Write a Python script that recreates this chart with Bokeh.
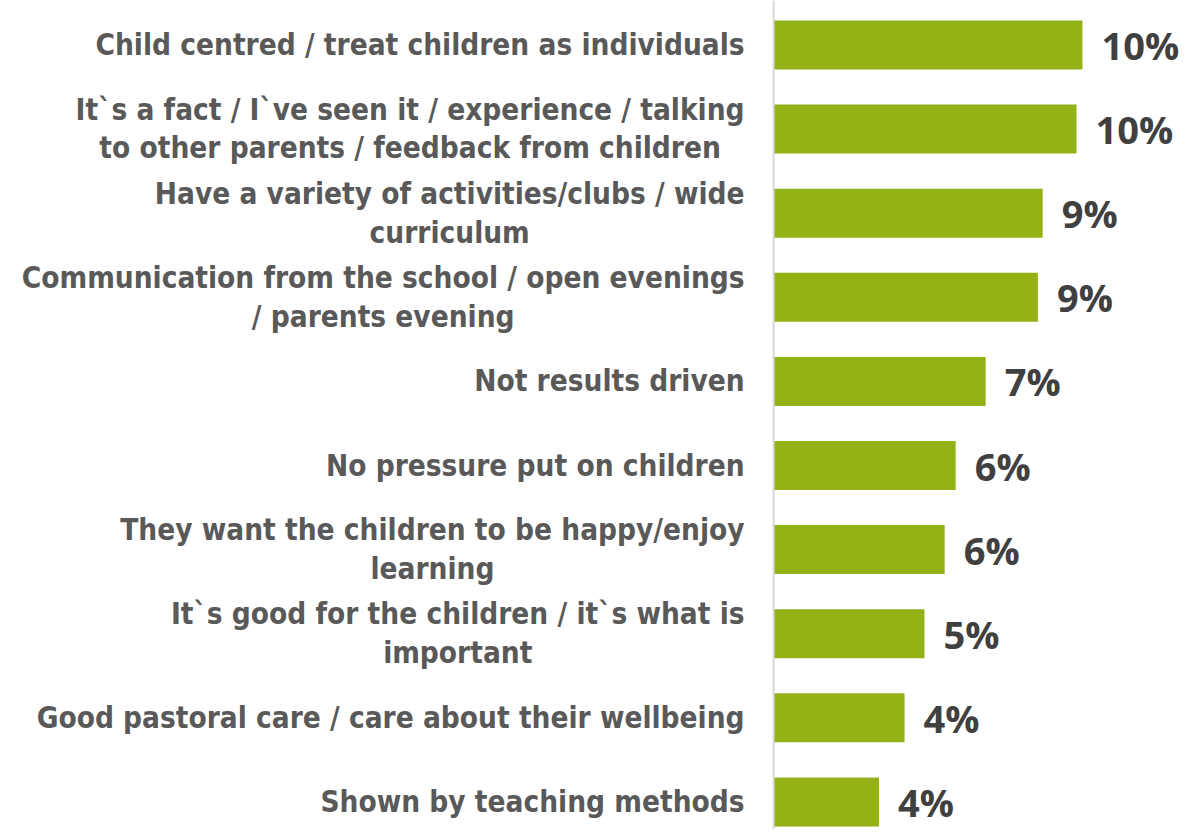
from bokeh.plotting import figure
from bokeh.models import ColumnDataSource, Range1d, Span
from bokeh.core.properties import value
from bokeh.embed import file_html
from bokeh.resources import INLINE

categories = [
    "Child centred / treat children as individuals",
    "It`s a fact / I`ve seen it / experience / talking\nto other parents / feedback from children",
    "Have a variety of activities/clubs / wide\ncurriculum",
    "Communication from the school / open evenings\n/ parents evening",
    "Not results driven",
    "No pressure put on children",
    "They want the children to be happy/enjoy\nlearning",
    "It`s good for the children / it`s what is\nimportant",
    "Good pastoral care / care about their wellbeing",
    "Shown by teaching methods",
]
values = [10.4, 10.2, 9.06, 8.9, 7.14, 6.13, 5.76, 5.08, 4.41, 3.55]
value_labels = [f"{round(v)}%" for v in values]

pos = list(range(len(categories)))
src = ColumnDataSource(dict(y=pos, v=values, cat=categories, lab=value_labels,
                            zero=[0] * len(values)))

W, H = 1188, 829
p = figure(width=W, height=H, output_backend="svg", toolbar_location=None,
           x_range=Range1d(-26.03, 13.97), y_range=Range1d(9.328, -0.529),
           min_border_left=0, min_border_right=0, min_border_top=0, min_border_bottom=0)
p.outline_line_color = None
p.axis.visible = False
p.grid.visible = False
p.background_fill_color = "white"
p.border_fill_color = "white"

p.hbar(y="y", left="zero", right="v", height=0.583, source=src,
       fill_color="#92B216", line_color=None)

p.add_layout(Span(location=0, dimension="height", line_color="#D9D9D9", line_width=2))

p.text(x="zero", y="y", text="cat", source=src, x_offset=-29,
       anchor="center_right", text_align="center", text_baseline="middle",
       text_font=value("DejaVu Sans Condensed"), text_font_style="bold",
       text_font_size="29.5px", text_color="#595959", text_line_height=1.14)

p.text(x="v", y="y", text="lab", source=src, x_offset=19,
       text_align="left", text_baseline="middle",
       text_font=value("Open Sans"), text_font_style="bold",
       text_font_size="38px", text_color="#404040")

open("out.html", "w").write(file_html(p, INLINE))
